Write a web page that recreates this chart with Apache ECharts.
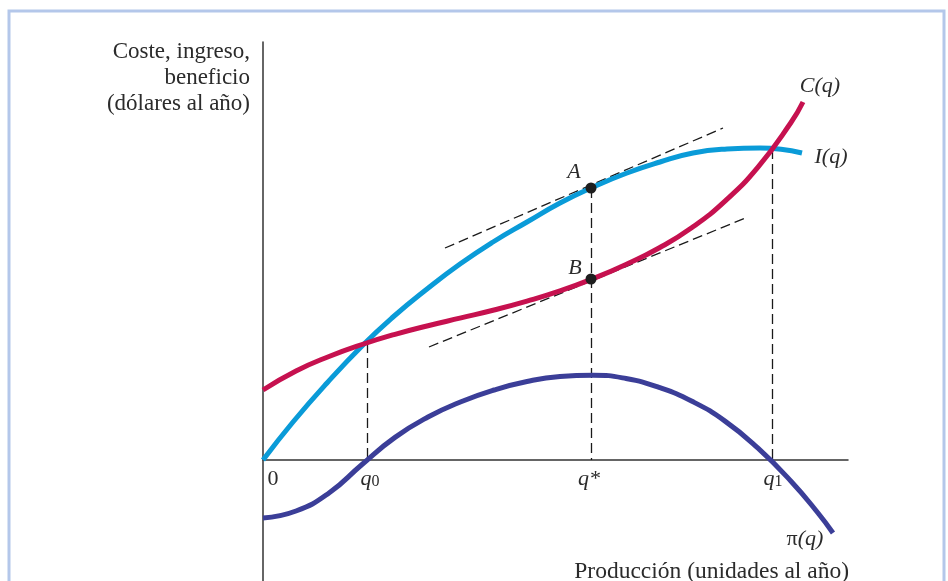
<!DOCTYPE html>
<html>
<head>
<meta charset="utf-8">
<script src="https://cdn.jsdelivr.net/npm/echarts@6/dist/echarts.min.js"></script>
<style>
  html, body { margin: 0; padding: 0; background: #fff; }
  #chart { width: 948px; height: 581px; }
</style>
</head>
<body>
<div id="chart"></div>
<script>
// curvas: [q, valor]
const ingreso = [[0, 0], [3, 3.8], [6.4, 7.7], [10, 11.5], [13, 14.3], [16.4, 17.1], [19.7, 19.6], [23, 21.8], [26.4, 23.8], [29.7, 25.7], [32.8, 27.2], [36.4, 28.7], [39.7, 29.8], [43, 30.7], [46.4, 31.1], [49.7, 31.2], [53.9, 30.7]];
const coste = [[0, 7], [3.3, 8.9], [6.6, 10.35], [9.9, 11.55], [13.2, 12.57], [16.5, 13.43], [19.8, 14.21], [23.1, 15], [26.4, 15.89], [29.7, 16.91], [33, 18.13], [36.3, 19.55], [39.6, 21.2], [42.9, 23.25], [46.2, 25.89], [49.5, 29.29], [52.8, 33.75], [54, 35.8]];
const beneficio = [[0, -5.8], [3.3, -5.1], [6.6, -3.3], [9.9, -0.45], [13.2, 2.26], [16.5, 4.3], [19.8, 5.83], [23.1, 7], [26.4, 7.85], [29.7, 8.35], [33, 8.48], [36.3, 8.15], [39.6, 7.26], [42.9, 5.87], [46.2, 3.89], [49.5, 1.18], [52.8, -2.12], [55.5, -5.3], [57, -7.3]];

// tangentes en q*
const tangenteA = [[18.2, 21.2], [46, 33.2]];
const tangenteB = [[16.6, 11.3], [48.5, 24.3]];
const puntoA = [32.8, 27.2];
const puntoB = [32.8, 18.1];

// marcas del eje de producción
const qMarks = [0, 10.4, 32.8, 50.9];
const qTops = [0, 11.7, 27.2, 31.1];
const qLabels = ['{r|0}', '{i|q}{sub|0}', '{i|q*}', '{i|q}{sub|1}'];
const qLabelShift = [10, 3, -2, 1];

const serif = '"Liberation Serif", "DejaVu Serif", serif';
const ink = '#2b2b2b';

const chart = echarts.init(document.getElementById('chart'));

// etiquetas de las curvas, ancladas a sus extremos
const last = arr => arr[arr.length - 1];
const etiquetas = [
	{ value: last(coste), label: { formatter: '{i|C(q)}', offset: [17, -16] } },
	{ value: last(ingreso), label: { formatter: '{i|I(q)}', offset: [29, 4] } },
	{ value: last(beneficio), label: { formatter: '{r|π}{i|(q)}', offset: [-28, 6] } },
	{ value: puntoA, label: { formatter: '{i|A}', offset: [-17, -16] } },
	{ value: puntoB, label: { formatter: '{i|B}', offset: [-16, -11] } }
].concat(qMarks.map((q, k) => ({
	value: [q, 0],
	label: { formatter: qLabels[k], offset: [qLabelShift[k], 19] }
})));

const rich = {
	i: { fontFamily: serif, fontStyle: 'italic', fontSize: 22, color: ink, lineHeight: 22, verticalAlign: 'bottom' },
	r: { fontFamily: serif, fontSize: 22, color: ink, lineHeight: 22, verticalAlign: 'bottom' },
	sub: { fontFamily: serif, fontSize: 16, color: ink, lineHeight: 12, verticalAlign: 'bottom' }
};

const dashed = { color: '#1a1a1a', width: 1.3, type: [10, 5], opacity: 1 };
const smoothLine = { type: 'line', smooth: true, showSymbol: false, silent: true };

chart.setOption({
	animation: false,
	backgroundColor: '#fff',
	grid: { left: 263, right: 100, top: 42, bottom: 0, outerBoundsMode: 'none', containLabel: false },
	xAxis: {
		type: 'value',
		min: 0,
		max: 58.5,
		axisLine: { onZero: true, lineStyle: { color: '#333', width: 1.5 } },
		axisTick: { show: false },
		axisLabel: { show: false },
		splitLine: { show: false }
	},
	yAxis: {
		type: 'value',
		min: -12.1,
		max: 41.8,
		axisLine: { show: true, onZero: true, lineStyle: { color: '#333', width: 1.5 } },
		axisTick: { show: false },
		axisLabel: { show: false },
		splitLine: { show: false }
	},
	graphic: [
		{
			type: 'rect',
			silent: true,
			shape: { x: 9, y: 11, width: 935, height: 620 },
			style: { fill: 'none', stroke: '#b4c7ea', lineWidth: 3 }
		},
		{
			type: 'text',
			x: 250,
			y: 39,
			style: {
				text: 'Coste, ingreso,\nbeneficio\n(dólares al año)',
				align: 'right',
				verticalAlign: 'top',
				lineHeight: 26,
				font: '23px ' + serif,
				fill: ink
			}
		},
		{
			type: 'text',
			x: 849,
			y: 572,
			style: {
				text: 'Producción (unidades al año)',
				align: 'right',
				verticalAlign: 'middle',
				font: '23.5px ' + serif,
				fill: ink
			}
		}
	],
	series: [
		{
			type: 'lines',
			coordinateSystem: 'cartesian2d',
			silent: true,
			lineStyle: dashed,
			data: qMarks.slice(1).map((q, k) => ({ coords: [[q, qTops[k + 1]], [q, 0]] }))
		},
		{
			type: 'lines',
			coordinateSystem: 'cartesian2d',
			silent: true,
			lineStyle: dashed,
			data: [{ coords: tangenteA }, { coords: tangenteB }]
		},
		Object.assign({ name: 'I(q)', data: ingreso, lineStyle: { color: '#0a9bd8', width: 5 } }, smoothLine),
		Object.assign({ name: 'C(q)', data: coste, lineStyle: { color: '#c6114f', width: 5 } }, smoothLine),
		Object.assign({ name: 'π(q)', data: beneficio, lineStyle: { color: '#3b3e98', width: 5 } }, smoothLine),
		{
			type: 'scatter',
			data: [puntoA, puntoB],
			symbolSize: 11,
			itemStyle: { color: '#1e1e1e', opacity: 1 },
			silent: true,
			z: 5
		},
		{
			type: 'scatter',
			data: etiquetas,
			symbolSize: 0,
			silent: true,
			itemStyle: { opacity: 1 },
			label: { show: true, position: 'inside', color: ink, rich: rich },
			z: 6
		}
	]
});
</script>
</body>
</html>
